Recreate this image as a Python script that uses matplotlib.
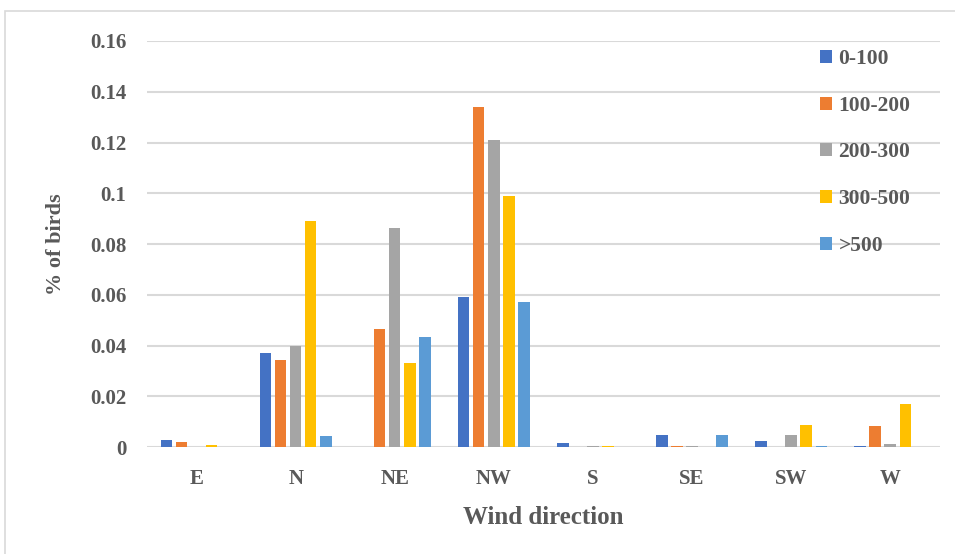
# Wind direction vs % of birds, grouped bar chart
import numpy as np
import matplotlib.pyplot as plt
from matplotlib.patches import Rectangle

# categories
directions = ['E', 'N', 'NE', 'NW', 'S', 'SE', 'SW', 'W']

# series (height bands)
series_names = ['0-100', '100-200', '200-300', '300-500', '>500']
v_0_100   = [0.0026, 0.037,  0.0,    0.059, 0.0017, 0.0047, 0.0022, 0.0006]
v_100_200 = [0.0021, 0.0345, 0.0465, 0.134, 0.0,    0.0006, 0.0,    0.0082]
v_200_300 = [0.0,    0.040,  0.0865, 0.121, 0.0006, 0.0006, 0.0047, 0.0012]
v_300_500 = [0.0010, 0.089,  0.033,  0.099, 0.0006, 0.0,    0.0088, 0.0168]
v_500     = [0.0,    0.0042, 0.0435, 0.057, 0.0,    0.0047, 0.0006, 0.0]

colors = ['#4472C4', '#ED7D31', '#A5A5A5', '#FFC000', '#5B9BD5']
text_color = '#595959'

plt.rcParams['font.family'] = ['Liberation Serif', 'DejaVu Serif']
plt.rcParams['font.weight'] = 'bold'
plt.rcParams['text.color'] = text_color
plt.rcParams['axes.labelcolor'] = text_color
plt.rcParams['xtick.color'] = text_color
plt.rcParams['ytick.color'] = text_color

fig = plt.figure(figsize=(9.55, 5.54), dpi=100)
ax = fig.add_axes([0.154, 0.193, 0.830, 0.733])

# frame around the chart
fig.patches.append(Rectangle((0.005, -0.01), 1.2, 0.99, transform=fig.transFigure,
                             fill=False, edgecolor='#D9D9D9', linewidth=1.2))

x = np.arange(len(directions))
step = 0.152
width = 0.115
all_vals = [v_0_100, v_100_200, v_200_300, v_300_500, v_500]
for i, (vals, name, c) in enumerate(zip(all_vals, series_names, colors)):
    ax.bar(x + (i - 2) * step, vals, width=width, color=c, label=name,
           linewidth=0, zorder=3)

ax.set_xlim(-0.5, len(directions) - 0.5)
ax.set_ylim(0, 0.16)
ax.set_yticks(np.arange(0, 0.161, 0.02))
ax.set_yticklabels(['0', '0.02', '0.04', '0.06', '0.08', '0.1', '0.12', '0.14', '0.16'])
ax.set_xticks(x)
ax.set_xticklabels(directions)
ax.tick_params(length=0, labelsize=15)
ax.tick_params(axis='x', pad=16)
ax.tick_params(axis='y', pad=15)

ax.yaxis.grid(True, color='#D9D9D9', linewidth=1.5, zorder=0)
for s in ax.spines.values():
    s.set_visible(False)

ax.set_xlabel('Wind direction', fontsize=18, fontweight='bold', labelpad=12)
ax.set_ylabel('% of birds', fontsize=16, fontweight='bold', labelpad=17)

ax.legend(loc='upper left', bbox_to_anchor=(0.833, 1.012), frameon=False,
          fontsize=15.5, handlelength=0.55, handleheight=0.55, handletextpad=0.3,
          labelspacing=1.24, borderaxespad=0.2)

fig.savefig('out.png', dpi=100)
